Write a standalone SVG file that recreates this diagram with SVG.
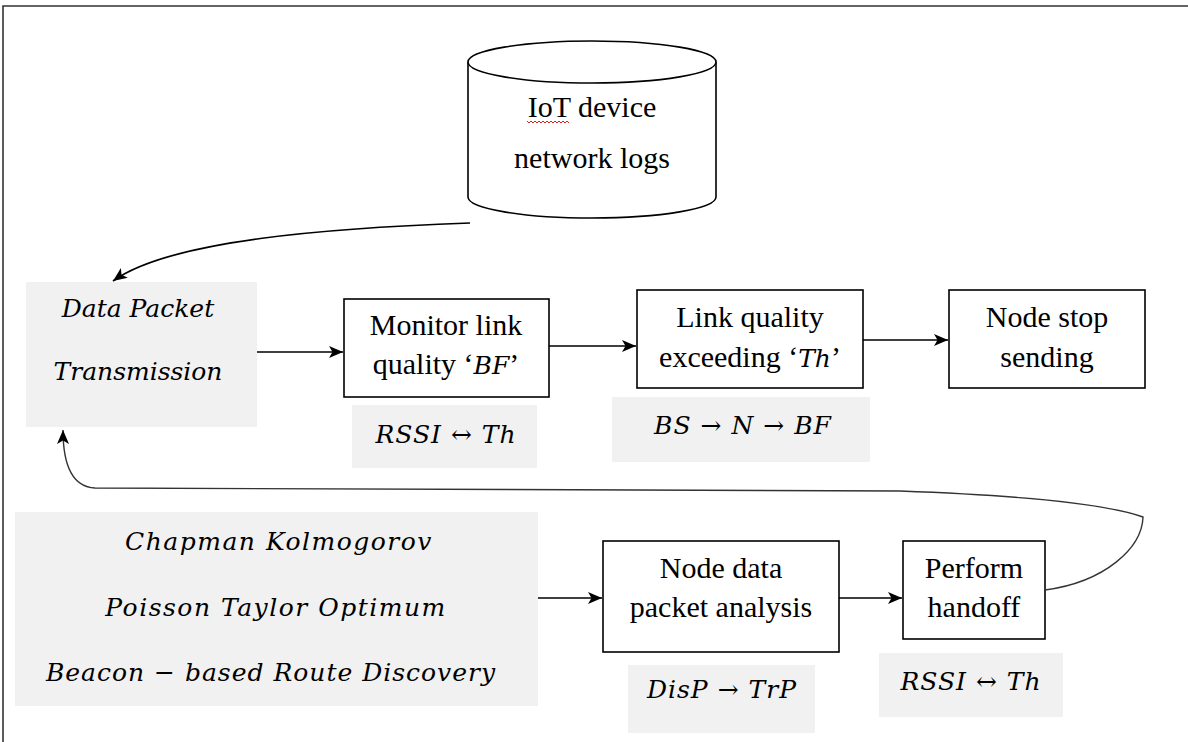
<svg xmlns="http://www.w3.org/2000/svg" width="1188" height="742" viewBox="0 0 1188 742">
<defs>
<marker id="arr" markerUnits="userSpaceOnUse" markerWidth="16" markerHeight="14" refX="14" refY="6" orient="auto">
<path d="M0,0 L14,6 L0,12 L3.5,6 z" fill="#000"/>
</marker>
<style>
.box{fill:#fff;stroke:#000;stroke-width:1.6}
.grey{fill:#f1f1f1;stroke:none}
.t{font-family:"Liberation Serif","Times New Roman",serif;font-size:30px;fill:#000;text-anchor:middle}
.m{font-family:"DejaVu Serif",serif;font-style:italic;font-size:25px;fill:#000;text-anchor:middle;letter-spacing:1px}
.mw{letter-spacing:1.5px}
.mi{font-family:"DejaVu Serif",serif;font-style:italic;font-size:25px}
.c{fill:none;stroke:#000;stroke-width:1.7}
.c2{fill:none;stroke:#333;stroke-width:1.4}
</style>
</defs>
<rect width="1188" height="742" fill="#fff"/>
<path d="M3,742 L3,6 L1188,6" fill="none" stroke="#333" stroke-width="1.6"/>

<g id="logs">
<path d="M468,62 L468,197 A124,21 0 0 0 716,197 L716,62" fill="#fff" stroke="#000" stroke-width="1.6"/>
<ellipse cx="592" cy="62" rx="124" ry="21" fill="#fff" stroke="#000" stroke-width="1.6"/>
<text class="t" x="592" y="117">IoT device</text>
<path d="M527,121 l2,2 l2,-2 l2,2 l2,-2 l2,2 l2,-2 l2,2 l2,-2 l2,2 l2,-2 l2,2 l2,-2 l2,2 l2,-2 l2,2 l2,-2 l2,2 l2,-2 l2,2 l2,-2 l2,2" fill="none" stroke="#e02020" stroke-width="1"/>
<text class="t" x="592" y="168">network logs</text>
</g>

<g id="dpt">
<rect class="grey" x="26" y="282" width="231" height="145"/>
<text class="m" x="138" y="317" style="letter-spacing:0">Data Packet</text>
<text class="m" x="138" y="380" style="letter-spacing:0">Transmission</text>
</g>

<g id="monitor">
<rect class="box" x="344" y="299" width="205" height="98"/>
<text class="t" x="446" y="335">Monitor link</text>
<text class="t" x="446" y="374">quality ‘<tspan class="mi">BF</tspan>’</text>
</g>

<g id="rssi1">
<rect class="grey" x="352" y="405" width="185" height="63"/>
<text class="m" x="446" y="443">RSSI ↔ Th</text>
</g>

<g id="linkq">
<rect class="box" x="637" y="290" width="226" height="98"/>
<text class="t" x="750" y="327">Link quality</text>
<text class="t" x="750" y="367">exceeding ‘<tspan class="mi">Th</tspan>’</text>
</g>

<g id="bsnbf">
<rect class="grey" x="612" y="397" width="258" height="65"/>
<text class="m" x="743" y="434">BS → N → BF</text>
</g>

<g id="stop">
<rect class="box" x="949" y="290" width="196" height="98"/>
<text class="t" x="1047" y="327">Node stop</text>
<text class="t" x="1047" y="367">sending</text>
</g>

<g id="methods">
<rect class="grey" x="15" y="512" width="523" height="194"/>
<text class="m mw" x="279" y="550">Chapman Kolmogorov</text>
<text class="m mw" x="276" y="616">Poisson Taylor Optimum</text>
<text class="m" x="271" y="681">Beacon − based Route Discovery</text>
</g>

<g id="analysis">
<rect class="box" x="603" y="541" width="236" height="111"/>
<text class="t" x="721" y="578">Node data</text>
<text class="t" x="721" y="617">packet analysis</text>
</g>

<g id="disp">
<rect class="grey" x="628" y="665" width="187" height="68"/>
<text class="m" x="722" y="698">DisP → TrP</text>
</g>

<g id="handoff">
<rect class="box" x="903" y="541" width="142" height="98"/>
<text class="t" x="974" y="578">Perform</text>
<text class="t" x="974" y="617">handoff</text>
</g>

<g id="rssi2">
<rect class="grey" x="879" y="653" width="184" height="64"/>
<text class="m" x="971" y="690">RSSI ↔ Th</text>
</g>

<g id="connectors">
<path class="c" d="M470,223 C330,228 170,240 113,281" marker-end="url(#arr)"/>
<line class="c" x1="257" y1="352" x2="343" y2="352" marker-end="url(#arr)"/>
<line class="c" x1="549" y1="346" x2="636" y2="346" marker-end="url(#arr)"/>
<line class="c" x1="863" y1="340" x2="948" y2="340" marker-end="url(#arr)"/>
<line class="c" x1="538" y1="598" x2="602" y2="598" marker-end="url(#arr)"/>
<line class="c" x1="839" y1="598" x2="902" y2="598" marker-end="url(#arr)"/>
<path class="c2" d="M1045,590 C1105,582 1142,548 1143,517 Q1090,498 900,491 L95,488 C75,487 63,470 63,430" marker-end="url(#arr)"/>
</g>
</svg>
